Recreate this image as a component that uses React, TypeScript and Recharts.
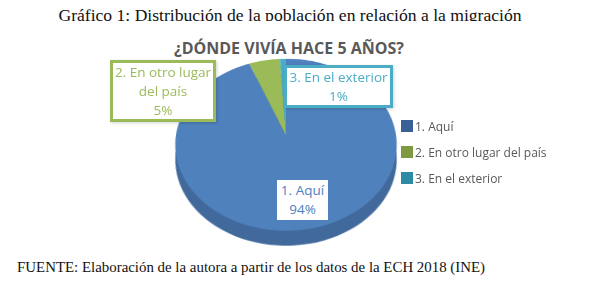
import { PieChart, Pie, Cell } from 'recharts';

const categories = ['1. Aquí', '2. En otro lugar del país', '3. En el exterior'];
const shares = [94, 5, 1];
const labelLines = [['1. Aquí'], ['2. En otro lugar', 'del país'], ['3. En el exterior']];
const colors = ['#4f81bd', '#9bbb59', '#4bacc6'];
const sideColors = ['#41699c', '#7f9a49', '#3d8ca2'];
const legendColors = ['#3a6195', '#7d9a3f', '#2f8ba5'];

const TITLE = 'Gráfico 1: Distribución de la población en relación a la migración';
const CHART_TITLE = '¿DÓNDE VIVÍA HACE 5 AÑOS?';
const SOURCE = 'FUENTE: Elaboración de la autora a partir de los datos de la ECH 2018 (INE)';

const data = categories.map((name, i) => ({ name, value: shares[i] }));

const SIZE = 240;
const sans = '"Open Sans", "Noto Sans", sans-serif';
const serif = '"Liberation Serif", serif';

const tilt = { transform: 'perspective(620px) rotateX(39.5deg)', transformOrigin: '50% 50%' };

function PieLayer({ fills, top }: { fills: string[]; top: number }) {
  return (
    <div style={{ position: 'absolute', left: 166, top, width: SIZE, height: SIZE, ...tilt }}>
      <PieChart width={SIZE} height={SIZE} margin={{ top: 0, right: 0, bottom: 0, left: 0 }}>
        <Pie
          data={data}
          dataKey="value"
          cx="50%"
          cy="50%"
          outerRadius={110}
          startAngle={90}
          endAngle={-270}
          stroke="none"
          isAnimationActive={false}
        >
          {data.map((d, i) => (
            <Cell key={d.name} fill={fills[i]} />
          ))}
        </Pie>
      </PieChart>
    </div>
  );
}

function DataLabel({ index, left, top, width, height, border }: { index: number; left: number; top: number; width: number; height: number; border: boolean }) {
  return (
    <div
      style={{
        position: 'absolute',
        left,
        top,
        width,
        height,
        boxSizing: 'border-box',
        background: '#fff',
        border: border ? `3px solid ${colors[index]}` : 'none',
        boxShadow: border ? '1px 1px 3px rgba(0,0,0,0.18)' : 'none',
        color: colors[index],
        fontFamily: sans,
        fontSize: 13.5,
        lineHeight: '19px',
        textAlign: 'center',
        display: 'flex',
        flexDirection: 'column',
        justifyContent: 'center',
      }}
    >
      {labelLines[index].map((line) => (
        <div key={line}>{line}</div>
      ))}
      <div>{shares[index]}%</div>
    </div>
  );
}

export default function App() {
  return (
    <div style={{ position: 'absolute', left: 0, top: 0, width: 590, height: 286, background: '#fff', overflow: 'hidden' }}>
      <div style={{ position: 'absolute', left: 0, top: 0, width: 580, height: 21, overflow: 'hidden', textAlign: 'center', fontFamily: serif, fontSize: 17.6, lineHeight: '30px', color: '#111', whiteSpace: 'nowrap' }}>
        {TITLE}
      </div>
      <div style={{ position: 'absolute', left: 0, top: 37, width: 578, textAlign: 'center', fontFamily: sans, fontWeight: 700, fontSize: 16, color: '#595959', whiteSpace: 'nowrap' }}>
        {CHART_TITLE}
      </div>

      <PieLayer fills={sideColors} top={30} />
      <PieLayer fills={colors} top={15} />

      <DataLabel index={1} left={110} top={60} width={106} height={62} border />
      <DataLabel index={2} left={284} top={65} width={109} height={43} border />
      <DataLabel index={0} left={277} top={180} width={51} height={40} border={false} />

      {categories.map((name, i) => (
        <div key={name} style={{ position: 'absolute', left: 401, top: 119 + i * 26, height: 14, display: 'flex', alignItems: 'center', gap: 2, fontFamily: sans, fontSize: 12, color: '#595959', whiteSpace: 'nowrap' }}>
          <span style={{ width: 12, height: 12, background: legendColors[i], display: 'inline-block' }} />
          {name}
        </div>
      ))}

      <div style={{ position: 'absolute', left: 17, top: 259, fontFamily: serif, fontSize: 14.9, color: '#111', whiteSpace: 'nowrap' }}>
        {SOURCE}
      </div>
    </div>
  );
}
